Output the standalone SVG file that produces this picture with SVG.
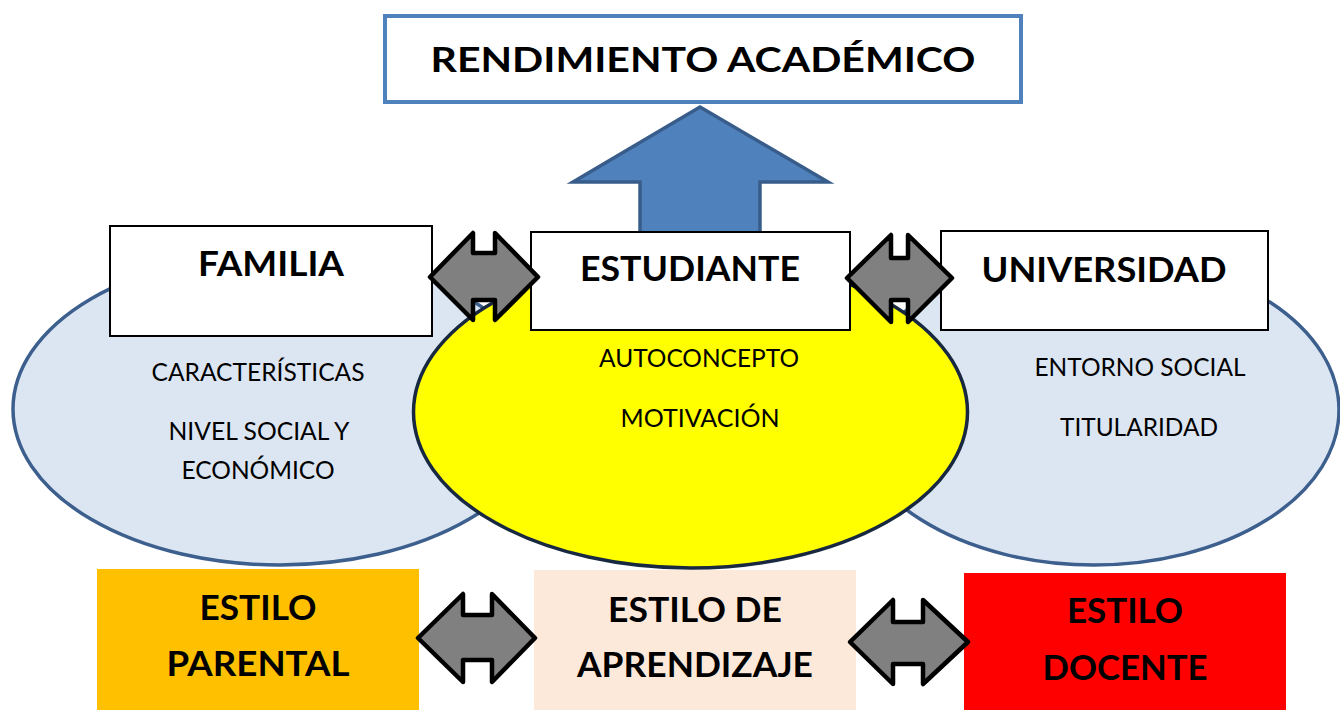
<svg xmlns="http://www.w3.org/2000/svg" width="1340" height="710" viewBox="0 0 1340 710">
<style>
.bold{font-family:Lato,"Liberation Sans",sans-serif;font-weight:bold;font-size:35px;fill:#000;text-anchor:middle}
.reg{font-family:Lato,"Liberation Sans",sans-serif;font-size:25px;fill:#000;text-anchor:middle}
.wbox{fill:#fff;stroke:#000;stroke-width:2}
.side{fill:#dce6f2;stroke:#3c5f8e;stroke-width:3.5}
.dbl{fill:#808080;stroke:#000;stroke-width:4.5;stroke-linejoin:round}
</style>
<rect width="1340" height="710" fill="#fff"/>
<g id="rendimiento">
<rect x="385" y="16" width="636" height="86" fill="#fff" stroke="#4f81bd" stroke-width="4"/>
<text class="bold" x="703" y="72" textLength="545" lengthAdjust="spacingAndGlyphs">RENDIMIENTO ACADÉMICO</text>
</g>
<g id="connectors-up">
<polygon points="700,107 828,182 760,182 760,240 640,240 640,182 573,182" fill="#4f81bd" stroke="#385d8a" stroke-width="3.5" stroke-linejoin="miter"/>
</g>
<g id="familia-ellipse"><ellipse class="side" cx="280" cy="409" rx="267" ry="156"/></g>
<g id="universidad-ellipse"><ellipse class="side" cx="1094" cy="410" rx="245" ry="155"/></g>
<g id="estudiante-ellipse"><ellipse cx="690.5" cy="412" rx="277" ry="156" fill="#ffff00" stroke="#172840" stroke-width="3.5"/></g>
<g id="familia">
<rect class="wbox" x="110" y="226" width="322" height="110"/>
<text class="bold" x="271" y="276" textLength="146" lengthAdjust="spacingAndGlyphs">FAMILIA</text>
<text class="reg" x="258" y="381" textLength="213" lengthAdjust="spacingAndGlyphs">CARACTERÍSTICAS</text>
<text class="reg" x="259" y="440" textLength="181" lengthAdjust="spacingAndGlyphs">NIVEL SOCIAL Y</text>
<text class="reg" x="258" y="479" textLength="153" lengthAdjust="spacingAndGlyphs">ECONÓMICO</text>
</g>
<g id="estudiante">
<rect class="wbox" x="531" y="232" width="319" height="98"/>
<text class="bold" x="690" y="281" textLength="220" lengthAdjust="spacingAndGlyphs">ESTUDIANTE</text>
<text class="reg" x="699" y="367" textLength="200" lengthAdjust="spacingAndGlyphs">AUTOCONCEPTO</text>
<text class="reg" x="700" y="427" textLength="159" lengthAdjust="spacingAndGlyphs">MOTIVACIÓN</text>
</g>
<g id="universidad">
<rect class="wbox" x="941" y="231" width="327" height="99"/>
<text class="bold" x="1104" y="282" textLength="245" lengthAdjust="spacingAndGlyphs">UNIVERSIDAD</text>
<text class="reg" x="1140" y="376" textLength="211" lengthAdjust="spacingAndGlyphs">ENTORNO SOCIAL</text>
<text class="reg" x="1139" y="436" textLength="158" lengthAdjust="spacingAndGlyphs">TITULARIDAD</text>
</g>
<g id="estilo-parental">
<rect x="97" y="569" width="322" height="141" fill="#ffc000"/>
<text class="bold" x="258" y="620" textLength="117" lengthAdjust="spacingAndGlyphs">ESTILO</text>
<text class="bold" x="258" y="676" textLength="183" lengthAdjust="spacingAndGlyphs">PARENTAL</text>
</g>
<g id="estilo-aprendizaje">
<rect x="534" y="570" width="322" height="140" fill="#fde9d9"/>
<text class="bold" x="695" y="622" textLength="174" lengthAdjust="spacingAndGlyphs">ESTILO DE</text>
<text class="bold" x="695" y="677" textLength="236" lengthAdjust="spacingAndGlyphs">APRENDIZAJE</text>
</g>
<g id="estilo-docente">
<rect x="964" y="573" width="322" height="137" fill="#ff0000"/>
<text class="bold" x="1125" y="623" textLength="116" lengthAdjust="spacingAndGlyphs">ESTILO</text>
<text class="bold" x="1125" y="680" textLength="165" lengthAdjust="spacingAndGlyphs">DOCENTE</text>
</g>
<g id="connectors">
<polygon class="dbl" points="430,277 473,233 473,253 495,253 495,233 538,277 495,320 495,300 473,300 473,320"/>
<polygon class="dbl" points="847,278 891,235 891,258 908,258 908,235 952,278 908,322 908,300 891,300 891,322"/>
<polygon class="dbl" points="418,638 463,594 463,615 492,615 492,594 535,638 492,682 492,660 463,660 463,682"/>
<polygon class="dbl" points="850,642 893,600 893,622 923,622 923,600 968,642 923,684 923,664 893,664 893,684"/>
</g>
</svg>
